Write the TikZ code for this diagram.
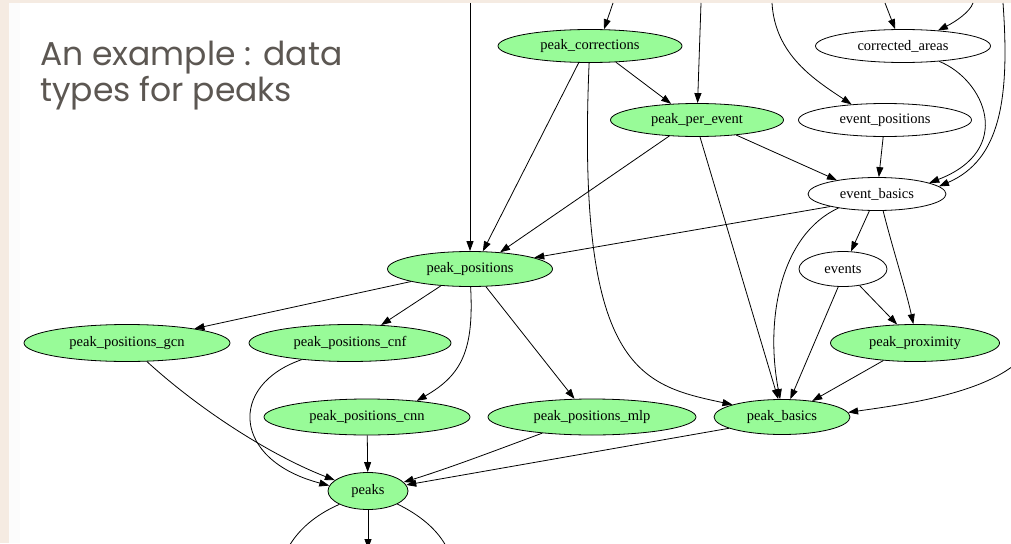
\documentclass[tikz,border=0pt]{standalone}
\usepackage{fontspec}
\setmainfont{Liberation Serif}
\newfontfamily\titlefont{Poppins}
\usepackage{tikz}
\usetikzlibrary{shapes.geometric}
\usetikzlibrary{arrows.meta}
\usepackage{xcolor}
\definecolor{mypalegreen}{RGB}{152, 251, 152}
\definecolor{mybeige}{RGB}{245, 235, 226}
\definecolor{mygray}{RGB}{92, 87, 82}

\begin{document}
\begin{tikzpicture}[
            x=1pt, y=-1pt,
            box/.style={
                ellipse,
                draw=black,
                fill=#1,
                line width=0.8pt,
                inner sep=0pt,
                minimum height=33pt,
                font=\fontsize{14.5}{14.5}\selectfont
            },
            box/.default=mypalegreen,
            edge/.style={-{Triangle[length=10pt,width=7pt]}, line width=0.8pt},
            title/.style={font=\titlefont\fontsize{33}{36}\selectfont, text=mygray, align=left, anchor=base west, inner sep=0pt}
        ]

            % Background
            \useasboundingbox (0,0) rectangle (1011,543);
            \fill[mybeige] (0,0) rectangle (1011,543);
            \fill[white] (9,3) rectangle (1011,543);
            \fill[black!1] (9,3) rectangle (20,543);

            % Title
            \node[title] (title) at (40,101) {An example : data\\types for peaks};

            % Nodes
            \node[box, minimum width=184pt] (corrections) at (590,46) {peak\_corrections};
            \node[box=white, minimum width=175pt] (correctedareas) at (903,46) {corrected\_areas};
            \node[box, minimum width=173pt] (perevent) at (697,120) {peak\_per\_event};
            \node[box=white, minimum width=173pt] (evpositions) at (885,120) {event\_positions};
            \node[box=white, minimum width=138pt] (evbasics) at (877,194) {event\_basics};
            \node[box, minimum width=165pt, minimum height=35pt] (positions) at (470,269) {peak\_positions};
            \node[box=white, minimum width=88pt, minimum height=35pt] (events) at (843,269) {events};
            \node[box, minimum width=206pt, minimum height=37pt] (gcn) at (127,343) {peak\_positions\_gcn};
            \node[box, minimum width=202pt, minimum height=37pt] (cnf) at (350,343) {peak\_positions\_cnf};
            \node[box, minimum width=169pt, minimum height=37pt] (proximity) at (915,343) {peak\_proximity};
            \node[box, minimum width=206pt, minimum height=36pt] (cnn) at (367,417) {peak\_positions\_cnn};
            \node[box, minimum width=208pt, minimum height=36pt] (mlp) at (592,417) {peak\_positions\_mlp};
            \node[box, minimum width=136pt, minimum height=35pt] (basics) at (782,417) {peak\_basics};
            \node[box, minimum width=80pt, minimum height=37pt] (peaks) at (368,491) {peaks};

            % Loose ends
            \coordinate (topa) at (613,3);
            \coordinate (topb) at (470,3);
            \coordinate (topc) at (701,3);
            \coordinate (topd) at (772,3);
            \coordinate (tope) at (885,3);
            \coordinate (topf) at (973,3);
            \coordinate (topg) at (1003,3);
            \coordinate (righth) at (1013,366);
            \coordinate (downl) at (288,548);
            \coordinate (downm) at (368,549);
            \coordinate (downr) at (447,548);

            % Arrows
            \draw[edge] (topa) -- (corrections.50);
            \draw[edge] (topb) -- (positions.north);
            \draw[edge] (topc) -- (perevent.88);
            \draw[edge] (topd) .. controls (775,55) and (815,80) .. (evpositions.155);
            \draw[edge] (tope) -- (correctedareas.115);
            \draw[edge] (topf) .. controls (970,12) and (955,22) .. (correctedareas.24);
            \draw[edge] (correctedareas.-23) .. controls (985,80) and (1015,150) .. (evbasics.12);
            \draw[edge] (topg) .. controls (1010,100) and (1000,160) .. (evbasics.7);
            \draw[edge] (corrections.-32) -- (perevent.148);
            \draw[edge] (corrections.-124) -- (positions.54);
            \draw[edge] (corrections.-93) .. controls (576,370) and (640,385) .. (basics.166);
            \draw[edge] (perevent.-150) -- (positions.29);
            \draw[edge] (perevent.-80) -- (basics.102);
            \draw[edge] (perevent.-21) -- (evbasics.161);
            \draw[edge] (evpositions) -- (evbasics);
            \draw[edge] (evbasics.-165) -- (positions.10);
            \draw[edge] (evbasics) -- (events);
            \draw[edge] (evbasics.-70) .. controls (893,250) and (906,290) .. (proximity.95);
            \draw[edge] (evbasics.-160) .. controls (780,235) and (765,320) .. (basics.96);
            \draw[edge] (events.-105) -- (basics.65);
            \draw[edge] (events.-45) -- (proximity.134);
            \draw[edge] (proximity.-151) -- (basics.28);
            \draw[edge] (righth) .. controls (975,395) and (900,405) .. (basics.4);
            \draw[edge] (positions.-168) -- (gcn.12);
            \draw[edge] (positions.-150) -- (cnf.30);
            \draw[edge] (positions.-88) .. controls (474,350) and (462,375) .. (cnn.18);
            \draw[edge] (positions.-48) -- (mlp.134);
            \draw[edge] (gcn.-43) .. controls (200,410) and (270,455) .. (peaks.162);
            \draw[edge] (cnf.-161) .. controls (228,385) and (232,460) .. (peaks.172);
            \draw[edge] (cnn) -- (peaks);
            \draw[edge] (mlp.-162) .. controls (510,445) and (450,468) .. (peaks.14);
            \draw[edge] (basics.-168) -- (peaks.9);
            \draw[line width=0.8pt] (peaks.-155) .. controls (315,515) and (298,530) .. (downl);
            \draw[edge] (peaks) -- (downm);
            \draw[line width=0.8pt] (peaks.-24) .. controls (420,515) and (438,530) .. (downr);
        \end{tikzpicture}
\end{document}
